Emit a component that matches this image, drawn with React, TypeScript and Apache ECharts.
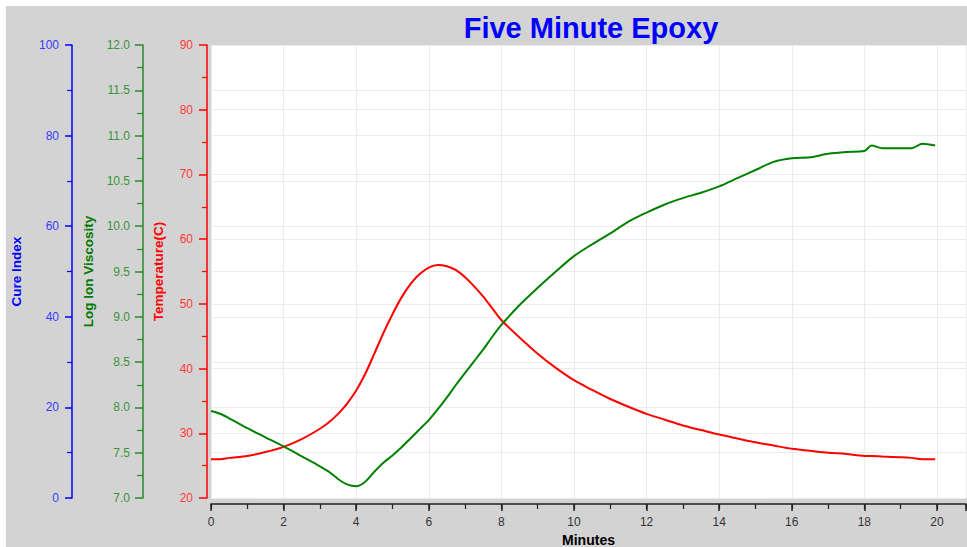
import React, { useEffect, useRef } from "react";
import * as echarts from "echarts";

const minutes = [0, 0.25, 0.5, 1, 1.5, 2, 2.5, 3,
  3.25, 3.5, 3.75, 4, 4.25, 4.5, 4.75, 5, 5.25, 5.5, 5.75, 6, 6.25, 6.5, 6.75, 7, 7.25, 7.5, 7.75, 8,
  8.5, 9, 9.5, 10, 10.5, 11, 11.5, 12, 12.5, 13, 13.5, 14, 14.5, 15, 15.5, 16, 16.5, 17, 17.5, 18,
  18.2, 18.5, 19, 19.3, 19.6, 19.95];

const temperature = [26.0, 26.0, 26.2, 26.5, 27.1, 27.9, 29.1, 30.7,
  31.7, 33.0, 34.6, 36.6, 39.2, 42.3, 45.5, 48.4, 51.0, 53.1, 54.6, 55.6, 56.0, 55.8, 55.2, 54.1, 52.7, 51.1, 49.3, 47.5,
  44.8, 42.3, 40.1, 38.2, 36.7, 35.3, 34.1, 33.0, 32.1, 31.2, 30.5, 29.8, 29.2, 28.6, 28.1, 27.6, 27.3, 27.0, 26.8, 26.5,
  26.5, 26.4, 26.3, 26.2, 26.0, 26.0];

const viscosity = [7.96, 7.93, 7.88, 7.77, 7.67, 7.57, 7.46, 7.35,
  7.29, 7.21, 7.15, 7.13, 7.18, 7.29, 7.39, 7.47, 7.56, 7.66, 7.76, 7.86, 7.98, 8.11, 8.25, 8.38, 8.51, 8.64, 8.78, 8.91,
  9.13, 9.32, 9.5, 9.67, 9.8, 9.92, 10.05, 10.15, 10.24, 10.31, 10.37, 10.44, 10.53, 10.62, 10.71, 10.75, 10.76, 10.8, 10.82, 10.83,
  10.89, 10.86, 10.86, 10.86, 10.91, 10.89];

const titleText = "Five Minute Epoxy";
const xName = "Minutes";
const tempName = "Temperature(C)";
const viscName = "Log Ion Viscosity";
const cureName = "Cure Index";

const FONT = "'Liberation Sans', Arial, sans-serif";

export default function App() {
  const ref = useRef<HTMLDivElement>(null);
  useEffect(() => {
    if (!ref.current) return;
    const chart = echarts.init(ref.current, undefined, { renderer: "svg" });
    const gridColor = "#ebebeb";
    chart.setOption({
      animation: false,
      backgroundColor: "#d3d3d3",
      textStyle: { fontFamily: FONT },
      title: {
        text: titleText,
        left: 580,
        top: 2,
        textAlign: "center",
        textStyle: { color: "#0000ff", fontSize: 29, fontWeight: "bold", fontFamily: FONT },
      },
      grid: {
        left: 205,
        top: 39,
        right: 1,
        bottom: 49,
        show: true,
        backgroundColor: "#ffffff",
        borderWidth: 0,
        containLabel: false,
        outerBoundsMode: "none",
      },
      xAxis: [
        {
          type: "value",
          min: 0,
          max: 20.8,
          interval: 2,
          position: "bottom",
          offset: 6,
          name: xName,
          nameLocation: "middle",
          nameGap: 26,
          nameTextStyle: { color: "#000", fontWeight: "bold", fontSize: 14, lineHeight: 14, fontFamily: FONT },
          axisLine: { show: true, onZero: false, lineStyle: { color: "#222", width: 1.5 } },
          axisTick: { show: true, length: 7, lineStyle: { color: "#222", width: 1.5 } },
          axisLabel: {
            color: "#333",
            fontSize: 12,
            margin: 12,
            formatter: (v: number) => (Math.abs(v % 2) < 1e-9 ? String(v) : ""),
          },
          splitLine: { show: true, lineStyle: { color: gridColor, width: 1 } },
        },
        {
          type: "value",
          min: 0,
          max: 20.8,
          interval: 1,
          position: "bottom",
          offset: 6,
          axisLine: { show: false, onZero: false },
          axisTick: { show: true, length: 5, lineStyle: { color: "#222", width: 1.2 } },
          axisLabel: { show: false },
          splitLine: { show: false },
        },
      ],
      yAxis: [
        {
          type: "value",
          min: 20,
          max: 90,
          interval: 10,
          position: "left",
          offset: 4,
          name: tempName,
          nameLocation: "middle",
          nameGap: 42,
          nameTextStyle: { color: "#ff0000", fontWeight: "bold", fontSize: 13.5, fontFamily: FONT },
          axisLine: { show: true, onZero: false, lineStyle: { color: "#ff0000", width: 1.5 } },
          axisTick: { show: true, length: 8, lineStyle: { color: "#ff0000", width: 1.5 } },
          minorTick: { show: true, splitNumber: 2, length: 5, lineStyle: { color: "#ff0000", width: 1.2 } },
          axisLabel: { color: "#ff3a3a", fontSize: 12, margin: 14 },
          splitLine: { show: true, lineStyle: { color: gridColor, width: 1 } },
        },
        {
          type: "value",
          min: 7,
          max: 12,
          interval: 0.5,
          position: "left",
          offset: 68,
          name: viscName,
          nameLocation: "middle",
          nameGap: 48,
          nameTextStyle: { color: "#007a00", fontWeight: "bold", fontSize: 13.5, fontFamily: FONT },
          axisLine: { show: true, onZero: false, lineStyle: { color: "#2a8a2a", width: 1.5 } },
          axisTick: { show: true, length: 8, lineStyle: { color: "#2a8a2a", width: 1.5 } },
          minorTick: { show: true, splitNumber: 2, length: 6, lineStyle: { color: "#2a8a2a", width: 1.2 } },
          axisLabel: { color: "#3a943a", fontSize: 12, margin: 13, formatter: (v: number) => v.toFixed(1) },
          splitLine: { show: true, lineStyle: { color: gridColor, width: 1 } },
        },
        {
          type: "value",
          min: 0,
          max: 100,
          interval: 20,
          position: "left",
          offset: 139,
          name: cureName,
          nameLocation: "middle",
          nameGap: 49,
          nameTextStyle: { color: "#0000ff", fontWeight: "bold", fontSize: 13.5, fontFamily: FONT },
          axisLine: { show: true, onZero: false, lineStyle: { color: "#0000ff", width: 1.5 } },
          axisTick: { show: true, length: 7, lineStyle: { color: "#0000ff", width: 1.5 } },
          minorTick: { show: true, splitNumber: 2, length: 5, lineStyle: { color: "#0000ff", width: 1.2 } },
          axisLabel: { color: "#3b3bff", fontSize: 12, margin: 13 },
          splitLine: { show: false },
        },
      ],
      series: [
        {
          name: tempName,
          type: "line",
          xAxisIndex: 0,
          yAxisIndex: 0,
          data: minutes.map((m, i) => [m, temperature[i]]),
          showSymbol: false,
          smooth: 0.3,
          lineStyle: { color: "#ff0000", width: 2 },
          itemStyle: { color: "#ff0000" },
        },
        {
          name: viscName,
          type: "line",
          xAxisIndex: 0,
          yAxisIndex: 1,
          data: minutes.map((m, i) => [m, viscosity[i]]),
          showSymbol: false,
          smooth: 0.3,
          lineStyle: { color: "#008000", width: 2 },
          itemStyle: { color: "#008000" },
        },
      ],
    });
    return () => chart.dispose();
  }, []);
  return (
    <div
      ref={ref}
      style={{ position: "absolute", left: 6, top: 6, width: 961, height: 541 }}
    />
  );
}
